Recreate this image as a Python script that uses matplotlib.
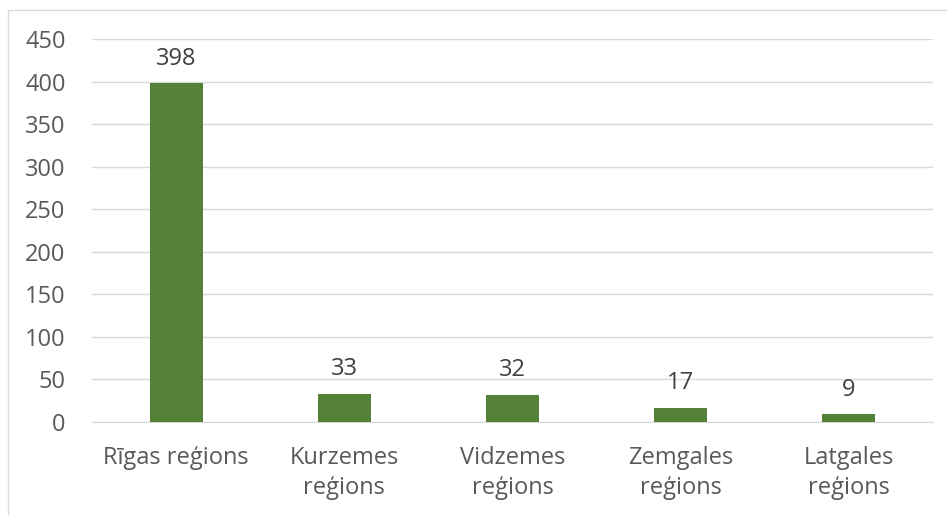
import numpy as np
import matplotlib
matplotlib.use('Agg')
import matplotlib.pyplot as plt
from matplotlib.patches import Rectangle

# data
regions = ['Rīgas reģions', 'Kurzemes\nreģions', 'Vidzemes\nreģions',
           'Zemgales\nreģions', 'Latgales\nreģions']
counts = [398, 33, 32, 17, 9]
yticks = [0, 50, 100, 150, 200, 250, 300, 350, 400, 450]

bar_color = '#538135'
text_color = '#595959'
grid_color = '#d9d9d9'
fs = 17

plt.rcParams['font.family'] = ['Open Sans', 'DejaVu Sans']

W, H = 947, 515
fig = plt.figure(figsize=(W / 100, H / 100), dpi=100)

# chart frame, cut off at right and bottom like the reference
fig.patches.append(Rectangle((8 / W, -0.1), 1.2, (H - 10) / H + 0.1,
                             transform=fig.transFigure, fill=False,
                             edgecolor=grid_color, linewidth=1))

ax = fig.add_axes([92 / W, (H - 422) / H, (933 - 92) / W, (422 - 39) / H])
x = np.arange(len(regions))
bars = ax.bar(x, counts, width=0.315, color=bar_color, zorder=3)

ax.set_ylim(0, 450)
ax.set_xlim(-0.5, len(regions) - 0.5)
ax.set_yticks(yticks)
ax.set_xticks(x)
ax.set_xticklabels(regions, fontsize=fs, color=text_color, linespacing=1.38)
ax.tick_params(axis='y', labelsize=fs, labelcolor=text_color, length=0, pad=19)
ax.tick_params(axis='x', length=0, pad=17)
ax.grid(axis='y', color=grid_color, linewidth=1, zorder=0)
for s in ['top', 'right', 'left']:
    ax.spines[s].set_visible(False)
ax.spines['bottom'].set_color(grid_color)

for b, v in zip(bars, counts):
    ax.annotate(str(v), (b.get_x() + b.get_width() / 2, v), xytext=(0, 9),
                textcoords='offset points', ha='center', va='bottom',
                fontsize=fs, color='#404040')

fig.savefig('out.png', dpi=100)
